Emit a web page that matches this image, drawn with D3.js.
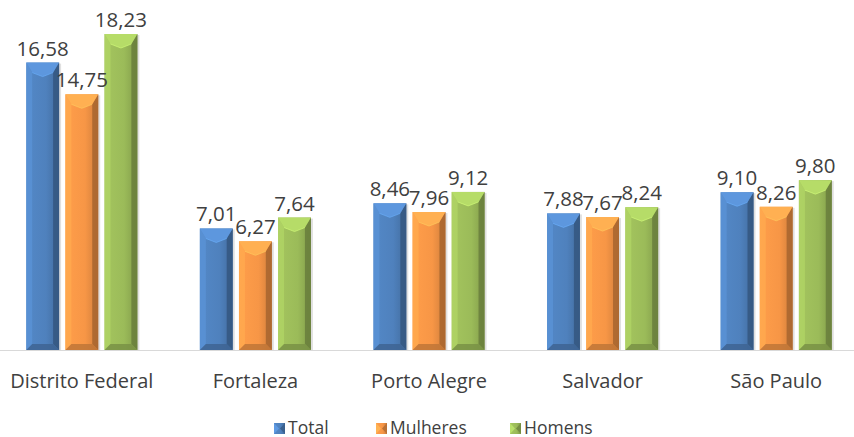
<!DOCTYPE html>
<html><head><meta charset="utf-8">
<script src="https://cdn.jsdelivr.net/npm/d3@7"></script>
<style>body{margin:0;background:#fff}svg{display:block}</style>
</head><body><svg id="c" width="854" height="437"></svg>
<script>
const categories = ["Distrito Federal","Fortaleza","Porto Alegre","Salvador","São Paulo"];
const seriesNames = ["Total","Mulheres","Homens"];
const total = [16.58,7.01,8.46,7.88,9.10];
const mulheres = [14.75,6.27,7.96,7.67,8.26];
const homens = [18.23,7.64,9.12,8.24,9.80];
const colors = ["#4F81BD","#F79646","#9BBB59"];

const svg = d3.select("#c");
const font = "'Open Sans', 'Liberation Sans', sans-serif";
const W=854, H=437, base=350;
const y = d3.scaleLinear().domain([0,18.23]).range([base,34]);
const x0 = d3.scaleBand().domain(categories).range([-5,863]).paddingInner(0.36).paddingOuter(0.18);
const x1 = d3.scaleBand().domain(seriesNames).range([0,x0.bandwidth()]).paddingInner(0.16);

const defs = svg.append("defs");
colors.forEach((c,i)=>{
  const g = defs.append("linearGradient").attr("id","g"+i).attr("x1",0).attr("x2",1).attr("y1",0).attr("y2",0);
  g.append("stop").attr("offset","0%").attr("stop-color",d3.color(c).brighter(0.15));
  g.append("stop").attr("offset","60%").attr("stop-color",c);
  g.append("stop").attr("offset","100%").attr("stop-color",d3.color(c).darker(0.5));
});

svg.append("line").attr("x1",0).attr("x2",W).attr("y1",base+0.5).attr("y2",base+0.5).attr("stroke","#d9d9d9").attr("stroke-width",1);

const data = [];
categories.forEach((cat,ci)=>{
  [total,mulheres,homens].forEach((arr,si)=>data.push({cat,si,v:arr[ci]}));
});

const g = svg.append("g");
data.forEach(d=>{
  const bx = x0(d.cat)+x1(seriesNames[d.si]);
  const bw = x1.bandwidth();
  const by = y(d.v);
  const bh = base-by;
  const c = d3.color(colors[d.si]);
  const grp = g.append("g");
  grp.append("rect").attr("x",bx+1).attr("y",by+1).attr("width",bw+1).attr("height",bh-1).attr("fill","#000").attr("opacity",0.12);
  grp.append("rect").attr("x",bx).attr("y",by).attr("width",bw).attr("height",bh).attr("fill",`url(#g${d.si})`);
  const b = 6, bt = 10;
  grp.append("path").attr("d",`M${bx},${by}L${bx+b},${by+bt}L${bx+b},${base-b}L${bx},${base}Z`).attr("fill",c.brighter(0.35)).attr("opacity",0.8);
  grp.append("path").attr("d",`M${bx+bw},${by}L${bx+bw-b},${by+bt}L${bx+bw-b},${base-b}L${bx+bw},${base}Z`).attr("fill",c.darker(1.1)).attr("opacity",0.85);
  grp.append("path").attr("d",`M${bx},${base}L${bx+b},${base-b}L${bx+bw-b},${base-b}L${bx+bw},${base}Z`).attr("fill",c.darker(0.7)).attr("opacity",0.85);
  grp.append("path").attr("d",`M${bx},${by}L${bx+bw},${by}L${bx+bw-b},${by+bt}L${bx+bw/2},${by+bt+4}L${bx+b},${by+bt}Z`).attr("fill",c.brighter(0.45));
  grp.append("path").attr("d",`M${bx+b},${by+bt}L${bx+bw/2},${by+bt+4}L${bx+bw-b},${by+bt}`).attr("fill","none").attr("stroke",c.brighter(0.9)).attr("stroke-width",1).attr("opacity",0.6);
});
data.forEach(d=>{
  const bx = x0(d.cat)+x1(seriesNames[d.si]);
  const bw = x1.bandwidth();
  const by = y(d.v);
  g.append("text").attr("x",bx+bw/2).attr("y",by-7).attr("text-anchor","middle")
    .attr("font-family",font).attr("font-size",20.5).attr("fill","#404040")
    .text(d3.format(".2f")(d.v).replace(".",","));
});

svg.append("g").selectAll("text").data(categories).join("text")
  .attr("x",d=>x0(d)+x0.bandwidth()/2).attr("y",388).attr("text-anchor","middle")
  .attr("font-family",font).attr("font-size",20).attr("fill","#404040").text(d=>d);

const legX = [274,376,510];
const leg = svg.append("g");
seriesNames.forEach((s,i)=>{
  const lx = legX[i];
  leg.append("rect").attr("x",lx).attr("y",423).attr("width",11).attr("height",11).attr("fill",`url(#g${i})`);
  leg.append("path").attr("d",`M${lx},${423}L${lx+5},${428.5}L${lx},${434}Z`).attr("fill",d3.color(colors[i]).brighter(0.5));
  leg.append("path").attr("d",`M${lx+11},${423}L${lx+6},${428.5}L${lx+11},${434}Z`).attr("fill",d3.color(colors[i]).darker(0.8));
  leg.append("text").attr("x",lx+14).attr("y",433.5).attr("font-family",font).attr("font-size",17.5).attr("fill","#404040").text(s);
});
</script></body></html>
